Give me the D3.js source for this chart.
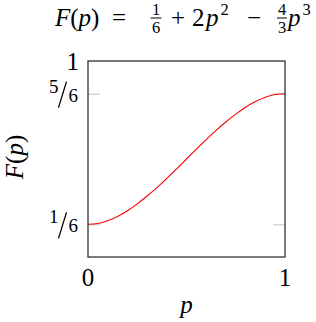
<!DOCTYPE html>
<html>
<head>
<meta charset="utf-8">
<script src="https://cdn.jsdelivr.net/npm/d3@7"></script>
<style>
  body { margin: 0; background: #fff; }
  svg { display: block; }
</style>
</head>
<body>
<div id="chart"></div>
<script>
// curve values, p = 0 .. 1 step 0.05
const pValues = [0, 0.05, 0.1, 0.15, 0.2, 0.25, 0.3, 0.35, 0.4, 0.45, 0.5,
                 0.55, 0.6, 0.65, 0.7, 0.75, 0.8, 0.85, 0.9, 0.95, 1]
const fValues = [0.167, 0.171, 0.185, 0.207, 0.236, 0.271, 0.311, 0.354, 0.401, 0.450, 0.500,
                 0.550, 0.599, 0.646, 0.689, 0.729, 0.764, 0.793, 0.815, 0.829, 0.833]
// y ticks: value, numerator, denominator (null = plain number)
const yTicks = [[1, "1", null], [5 / 6, "5", "6"], [1 / 6, "1", "6"]]
const xTicks = [0, 1]

const width = 316, height = 322
const margin = {top: 61, right: 31, bottom: 65, left: 88}
const FONT = "Liberation Serif"
const fs = 25, fsSmall = 19, fsScript = 16.5

const svg = d3.select("#chart").append("svg")
    .attr("width", width)
    .attr("height", height)

function txt(g, size) {
    return g.append("text")
        .attr("font-family", FONT)
        .attr("font-size", size)
        .attr("fill", "#000")
}

const x = d3.scaleLinear().domain([0, 1]).range([margin.left, width - margin.right])
const y = d3.scaleLinear().domain([0, 1]).range([height - margin.bottom, margin.top])

// gray inner ticks on both sides
const tickVals = yTicks.filter(d => d[2] !== null).map(d => d[0])
svg.append("g")
    .attr("transform", "translate(" + x(0) + ",0)")
    .call(d3.axisLeft(y).tickValues(tickVals).tickSize(-12).tickFormat(""))
    .call(g => g.select(".domain").remove())
    .call(g => g.selectAll("line").attr("stroke", "#c4c4c4").attr("stroke-width", 1.1))
svg.append("g")
    .attr("transform", "translate(" + x(1) + ",0)")
    .call(d3.axisRight(y).tickValues(tickVals).tickSize(-12).tickFormat(""))
    .call(g => g.select(".domain").remove())
    .call(g => g.selectAll("line").attr("stroke", "#c4c4c4").attr("stroke-width", 1.1))

// curve
const line = d3.line()
    .x((d, i) => x(pValues[i]))
    .y(d => y(d))
    .curve(d3.curveCatmullRom)
svg.append("path")
    .datum(fValues)
    .attr("d", line)
    .attr("fill", "none")
    .attr("stroke", "#ff0000")
    .attr("stroke-width", 1.1)

// frame
svg.append("rect")
    .attr("x", x(0)).attr("y", y(1))
    .attr("width", x(1) - x(0)).attr("height", y(0) - y(1))
    .attr("fill", "none")
    .attr("stroke", "#333")
    .attr("stroke-width", 1.3)

// nicefrac label, right-aligned at xr, centred on yc
function niceFrac(g, num, den, xr, yc) {
    let d = txt(g, fsSmall).attr("text-anchor", "end")
        .attr("x", xr).attr("y", yc + 8).text(den)
    let wd = d.node().getComputedTextLength()
    let sx = xr - wd - 1
    g.append("line")
        .attr("x1", sx - 9).attr("y1", yc + 14)
        .attr("x2", sx - 1).attr("y2", yc - 12)
        .attr("stroke", "#000").attr("stroke-width", 1.3)
    txt(g, fsSmall).attr("text-anchor", "end")
        .attr("x", sx - 9).attr("y", yc - 1).text(num)
}

yTicks.forEach(t => {
    if (t[2] === null) {
        txt(svg, fs)
            .attr("x", margin.left - 9).attr("y", y(t[0]) + 9)
            .attr("text-anchor", "end")
            .text(t[1])
    } else {
        niceFrac(svg, t[1], t[2], margin.left - 10, y(t[0]))
    }
})

xTicks.forEach(d => {
    txt(svg, fs)
        .attr("x", x(d))
        .attr("y", height - margin.bottom + 29)
        .attr("text-anchor", "middle")
        .text(d)
})

// axis labels
txt(svg, fs)
    .attr("x", (x(0) + x(1)) / 2)
    .attr("y", 313)
    .attr("text-anchor", "middle")
    .attr("font-style", "italic")
    .text("p")

txt(svg, fs)
    .attr("transform", "translate(23," + (y(0.5) - 2) + ") rotate(-90)")
    .attr("text-anchor", "middle")
    .html('<tspan font-style="italic">F</tspan>(<tspan font-style="italic">p</tspan>)')

// title: F(p) = 1/6 + 2p^2 - 4/3 p^3
const title = svg.append("g")
const base = 26
function piece(str, x0, italic) {
    let t = txt(title, fs).attr("x", x0).attr("y", base).text(str)
    if (italic) t.attr("font-style", "italic")
    return x0 + t.node().getComputedTextLength()
}
function sup(str, x0) {
    txt(title, fsScript).attr("x", x0).attr("y", 15).text(str)
}
function frac(a, b, xc, w) {
    txt(title, fsScript).attr("x", xc).attr("y", 15).attr("text-anchor", "middle").text(a)
    title.append("line").attr("x1", xc - w / 2).attr("x2", xc + w / 2)
        .attr("y1", 18).attr("y2", 18).attr("stroke", "#000").attr("stroke-width", 1)
    txt(title, fsScript).attr("x", xc).attr("y", 33).attr("text-anchor", "middle").text(b)
}
txt(title, fs).attr("x", 55).attr("y", base)
    .html('<tspan font-style="italic">F</tspan>(<tspan font-style="italic">p</tspan>)')
piece("=", 112)
frac("1", "6", 156, 11)
piece("+", 171)
piece("2", 192)
let e = piece("p", 206, true)
sup("2", e + 2)
piece("\u2212", 247)
frac("4", "3", 282, 10)
e = piece("p", 288, true)
sup("3", e + 2)
</script>
</body>
</html>
